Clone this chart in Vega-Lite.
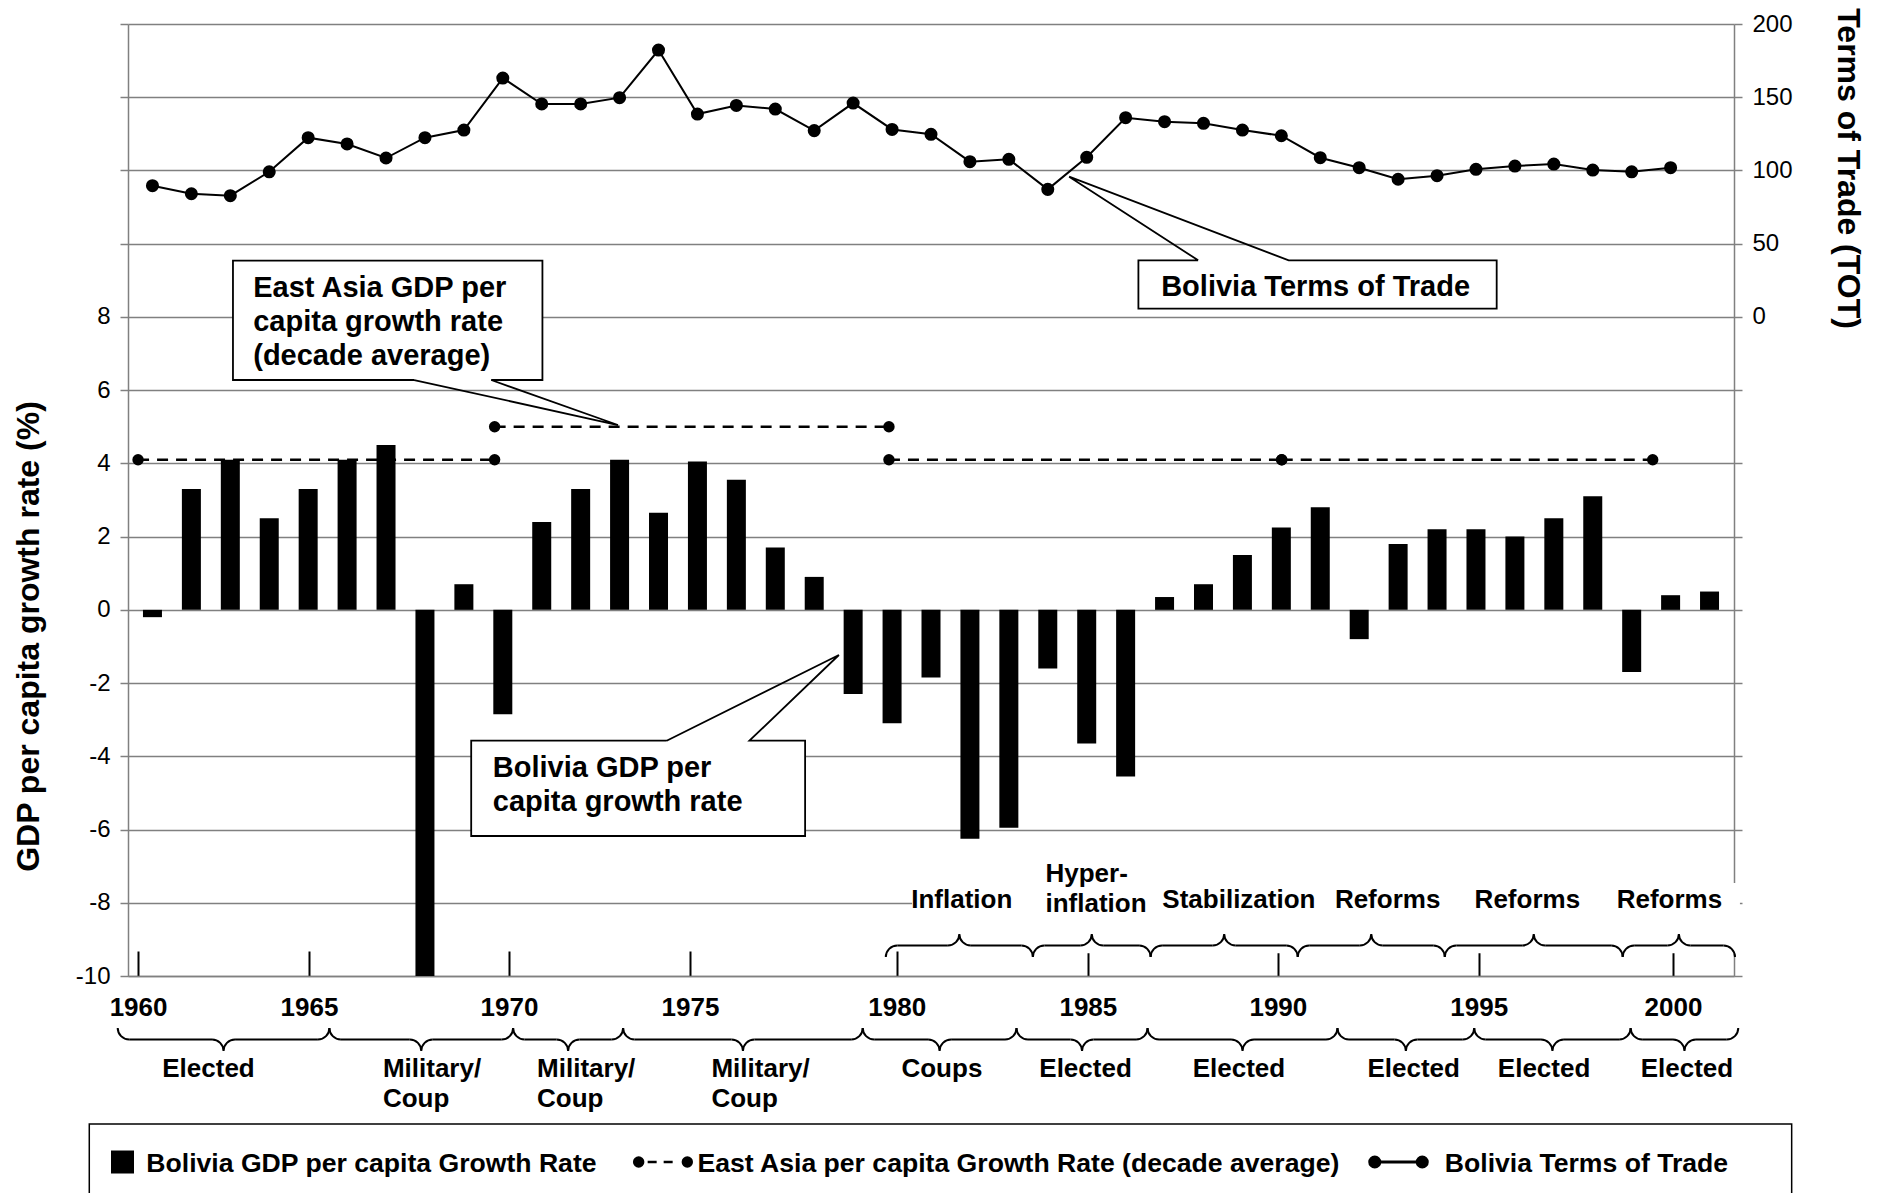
{
  "$schema": "https://vega.github.io/schema/vega-lite/v6.json",
  "width": 1606,
  "height": 952,
  "autosize": "none",
  "padding": {"left": 128, "top": 24, "right": 145, "bottom": 217},
  "config": {"view": {"stroke": null}, "font": "Liberation Sans"},
  "datasets": {
    "lb": [
      {"s": 1960.107, "m": 1962.826, "e": 1965.545},
      {"s": 1965.545, "m": 1967.905, "e": 1970.265},
      {"s": 1970.265, "m": 1971.678, "e": 1973.091},
      {"s": 1973.091, "m": 1976.169, "e": 1979.246},
      {"s": 1979.246, "m": 1981.221, "e": 1983.196},
      {"s": 1983.196, "m": 1984.88, "e": 1986.563},
      {"s": 1986.563, "m": 1989.003, "e": 1991.442},
      {"s": 1991.442, "m": 1993.199, "e": 1994.955},
      {"s": 1994.955, "m": 1996.964, "e": 1998.973},
      {"s": 1998.973, "m": 2000.356, "e": 2001.738}
    ],
    "ub": [
      {"s": 1979.839, "m": 1981.728, "e": 1983.617},
      {"s": 1983.617, "m": 1985.13, "e": 1986.642},
      {"s": 1986.642, "m": 1988.532, "e": 1990.421},
      {"s": 1990.421, "m": 1992.31, "e": 1994.199},
      {"s": 1994.199, "m": 1996.484, "e": 1998.769},
      {"s": 1998.769, "m": 2000.212, "e": 2001.654}
    ],
    "ea": [
      {"period": "1960s", "year": 1960.63, "growth": 4.1},
      {"period": "1960s", "year": 1969.79, "growth": 4.1},
      {"period": "1970s", "year": 1969.79, "growth": 5.0},
      {"period": "1970s", "year": 1979.92, "growth": 5.0},
      {"period": "1980s", "year": 1979.92, "growth": 4.1},
      {"period": "1980s", "year": 1990.01, "growth": 4.1},
      {"period": "1990s", "year": 1990.01, "growth": 4.1},
      {"period": "1990s", "year": 1999.54, "growth": 4.1}
    ],
    "legEA": [{"x": 1973.49, "y": -15.08}, {"x": 1974.74, "y": -15.08}],
    "legTOT": [{"x": 1992.4, "y": -15.08}, {"x": 1993.62, "y": -15.08}]
  },
  "layer": [
    {
      "layer": [
        {
          "data": {"values": [
            {"year": 1961, "growth": -0.2}, {"year": 1962, "growth": 3.3}, {"year": 1963, "growth": 4.1},
            {"year": 1964, "growth": 2.5}, {"year": 1965, "growth": 3.3}, {"year": 1966, "growth": 4.1},
            {"year": 1967, "growth": 4.5}, {"year": 1968, "growth": -10}, {"year": 1969, "growth": 0.7},
            {"year": 1970, "growth": -2.85}, {"year": 1971, "growth": 2.4}, {"year": 1972, "growth": 3.3},
            {"year": 1973, "growth": 4.1}, {"year": 1974, "growth": 2.65}, {"year": 1975, "growth": 4.05},
            {"year": 1976, "growth": 3.55}, {"year": 1977, "growth": 1.7}, {"year": 1978, "growth": 0.9},
            {"year": 1979, "growth": -2.3}, {"year": 1980, "growth": -3.1}, {"year": 1981, "growth": -1.85},
            {"year": 1982, "growth": -6.25}, {"year": 1983, "growth": -5.95}, {"year": 1984, "growth": -1.6},
            {"year": 1985, "growth": -3.65}, {"year": 1986, "growth": -4.55}, {"year": 1987, "growth": 0.35},
            {"year": 1988, "growth": 0.7}, {"year": 1989, "growth": 1.5}, {"year": 1990, "growth": 2.25},
            {"year": 1991, "growth": 2.8}, {"year": 1992, "growth": -0.8}, {"year": 1993, "growth": 1.8},
            {"year": 1994, "growth": 2.2}, {"year": 1995, "growth": 2.2}, {"year": 1996, "growth": 2.0},
            {"year": 1997, "growth": 2.5}, {"year": 1998, "growth": 3.1}, {"year": 1999, "growth": -1.7},
            {"year": 2000, "growth": 0.4}, {"year": 2001, "growth": 0.5}
          ]},
          "mark": {"type": "bar", "color": "black", "width": 19, "orient": "vertical"},
          "encoding": {
            "x": {
              "field": "year", "type": "quantitative",
              "scale": {"domain": [1960.5, 2001.5], "nice": false, "zero": false},
              "axis": {
                "title": null,
                "values": [1960.63, 1965.02, 1970.16, 1974.81, 1980.12, 1985.03, 1989.91, 1995.07, 2000.06],
                "labelExpr": "'' + round(datum.value / 5) * 5",
                "grid": false, "domainColor": "#808080", "domainWidth": 1.5,
                "tickColor": "black", "tickWidth": 2, "tickSize": -25,
                "labelFontSize": 26, "labelFontWeight": "bold", "labelColor": "black",
                "labelPadding": 43, "labelFlush": false, "labelOverlap": false, "labelBaseline": "top"
              }
            },
            "y": {
              "field": "growth", "type": "quantitative",
              "scale": {"domain": [-10, 16], "nice": false, "zero": false},
              "axis": {
                "title": "GDP per capita growth rate (%)",
                "values": [-10, -8, -6, -4, -2, 0, 2, 4, 6, 8, 10, 12, 14, 16],
                "labelExpr": "datum.value <= 8 ? '' + datum.value : ''",
                "grid": true, "gridColor": "#808080", "gridWidth": 1.5,
                "domainColor": "#808080", "domainWidth": 1.5,
                "tickColor": "#808080", "tickWidth": 1.5, "tickSize": 8,
                "labelFontSize": 24, "labelColor": "black", "labelPadding": 10, "labelOverlap": false,
                "titleFontSize": 32, "titleFontWeight": "bold", "titleColor": "black",
                "titleX": -100, "titleY": 612, "titleAngle": 270, "titleAlign": "center", "titleBaseline": "middle"
              }
            },
            "y2": {"datum": 0}
          }
        },
        {
          "data": {"values": [
            {"x1": 1963.068, "x2": 1971.018, "y1": 6.277, "y2": 9.535},
            {"x1": 1969.188, "x2": 1977.766, "y1": -6.177, "y2": -3.574},
            {"x1": 1986.328, "x2": 1995.532, "y1": 8.225, "y2": 9.546},
            {"x1": 1980.515, "x2": 2001.781, "y1": -9.38, "y2": -7.46}
          ]},
          "mark": {"type": "rect", "color": "white", "opacity": 1},
          "encoding": {
            "x": {"field": "x1", "type": "quantitative", "scale": {"domain": [1960.5, 2001.5], "nice": false, "zero": false}},
            "x2": {"field": "x2"},
            "y": {"field": "y1", "type": "quantitative", "scale": {"domain": [-10, 16], "nice": false, "zero": false}},
            "y2": {"field": "y2"}
          }
        },
        {
          "data": {"values": [
            {"id": "ea", "i": 1, "x": 1967.725, "y": 6.277}, {"id": "ea", "i": 2, "x": 1972.958, "y": 5.048},
            {"id": "ea", "i": 3, "x": 1969.703, "y": 6.277}, {"id": "ea", "i": 4, "x": 1971.018, "y": 6.277},
            {"id": "ea", "i": 5, "x": 1971.018, "y": 9.535}, {"id": "ea", "i": 6, "x": 1963.068, "y": 9.535},
            {"id": "ea", "i": 7, "x": 1963.068, "y": 6.277}, {"id": "ea", "i": 8, "x": 1967.725, "y": 6.277},
            {"id": "bol", "i": 1, "x": 1974.209, "y": -3.574}, {"id": "bol", "i": 2, "x": 1978.634, "y": -1.233},
            {"id": "bol", "i": 3, "x": 1976.336, "y": -3.574}, {"id": "bol", "i": 4, "x": 1977.766, "y": -3.574},
            {"id": "bol", "i": 5, "x": 1977.766, "y": -6.177}, {"id": "bol", "i": 6, "x": 1969.188, "y": -6.177},
            {"id": "bol", "i": 7, "x": 1969.188, "y": -3.574}, {"id": "bol", "i": 8, "x": 1974.209, "y": -3.574},
            {"id": "tot", "i": 1, "x": 1987.863, "y": 9.546}, {"id": "tot", "i": 2, "x": 1984.549, "y": 11.83},
            {"id": "tot", "i": 3, "x": 1990.189, "y": 9.546}, {"id": "tot", "i": 4, "x": 1995.532, "y": 9.546},
            {"id": "tot", "i": 5, "x": 1995.532, "y": 8.225}, {"id": "tot", "i": 6, "x": 1986.328, "y": 8.225},
            {"id": "tot", "i": 7, "x": 1986.328, "y": 9.546}, {"id": "tot", "i": 8, "x": 1987.863, "y": 9.546}
          ]},
          "mark": {"type": "line", "color": "black", "strokeWidth": 1.8, "strokeJoin": "miter"},
          "encoding": {
            "x": {"field": "x", "type": "quantitative", "scale": {"domain": [1960.5, 2001.5], "nice": false, "zero": false}},
            "y": {"field": "y", "type": "quantitative", "scale": {"domain": [-10, 16], "nice": false, "zero": false}},
            "order": {"field": "i", "type": "quantitative"},
            "detail": {"field": "id", "type": "nominal"}
          }
        },
        {
          "data": {"values": [
            {"t": "East Asia GDP per\ncapita growth rate\n(decade average)", "x": 1963.589, "y": 8.552},
            {"t": "Bolivia GDP per\ncapita growth rate", "x": 1969.742, "y": -4.557},
            {"t": "Bolivia Terms of Trade", "x": 1986.913, "y": 8.571}
          ]},
          "mark": {"type": "text", "align": "left", "baseline": "alphabetic", "fontSize": 29, "fontWeight": "bold", "color": "black", "lineBreak": "\n", "lineHeight": 34},
          "encoding": {
            "x": {"field": "x", "type": "quantitative", "scale": {"domain": [1960.5, 2001.5], "nice": false, "zero": false}},
            "y": {"field": "y", "type": "quantitative", "scale": {"domain": [-10, 16], "nice": false, "zero": false}},
            "text": {"field": "t"}
          }
        },
        {
          "data": {"name": "ea"},
          "mark": {"type": "line", "color": "black", "strokeWidth": 2.5, "strokeDash": [11, 8]},
          "encoding": {
            "x": {"field": "year", "type": "quantitative", "scale": {"domain": [1960.5, 2001.5], "nice": false, "zero": false}},
            "y": {"field": "growth", "type": "quantitative", "scale": {"domain": [-10, 16], "nice": false, "zero": false}},
            "detail": {"field": "period", "type": "nominal"}
          }
        },
        {
          "data": {"name": "ea"},
          "mark": {"type": "point", "filled": true, "color": "black", "size": 130, "opacity": 1},
          "encoding": {
            "x": {"field": "year", "type": "quantitative", "scale": {"domain": [1960.5, 2001.5], "nice": false, "zero": false}},
            "y": {"field": "growth", "type": "quantitative", "scale": {"domain": [-10, 16], "nice": false, "zero": false}}
          }
        },
        {
          "data": {"name": "lb"},
          "mark": {"type": "rule", "color": "black", "strokeWidth": 2, "xOffset": 11.5, "x2Offset": -11.5, "yOffset": 63.5},
          "encoding": {
            "x": {"field": "s", "type": "quantitative", "scale": {"domain": [1960.5, 2001.5], "nice": false, "zero": false}},
            "x2": {"field": "m"},
            "y": {"datum": -10, "type": "quantitative", "scale": {"domain": [-10, 16], "nice": false, "zero": false}}
          }
        },
        {
          "data": {"name": "lb"},
          "mark": {"type": "rule", "color": "black", "strokeWidth": 2, "xOffset": 11.5, "x2Offset": -11.5, "yOffset": 63.5},
          "encoding": {
            "x": {"field": "m", "type": "quantitative", "scale": {"domain": [1960.5, 2001.5], "nice": false, "zero": false}},
            "x2": {"field": "e"},
            "y": {"datum": -10, "type": "quantitative", "scale": {"domain": [-10, 16], "nice": false, "zero": false}}
          }
        },
        {
          "data": {"name": "lb"},
          "mark": {"type": "point", "shape": "M0,-1C0,-0.448 0.448,0 1,0", "filled": false, "color": "black", "strokeWidth": 2, "size": 529, "opacity": 1, "yOffset": 63.5},
          "encoding": {
            "x": {"field": "s", "type": "quantitative", "scale": {"domain": [1960.5, 2001.5], "nice": false, "zero": false}},
            "y": {"datum": -10, "type": "quantitative", "scale": {"domain": [-10, 16], "nice": false, "zero": false}}
          }
        },
        {
          "data": {"name": "lb"},
          "mark": {"type": "point", "shape": "M-1,0C-0.448,0 0,0.448 0,1C0,0.448 0.448,0 1,0", "filled": false, "color": "black", "strokeWidth": 2, "size": 529, "opacity": 1, "yOffset": 63.5},
          "encoding": {
            "x": {"field": "m", "type": "quantitative", "scale": {"domain": [1960.5, 2001.5], "nice": false, "zero": false}},
            "y": {"datum": -10, "type": "quantitative", "scale": {"domain": [-10, 16], "nice": false, "zero": false}}
          }
        },
        {
          "data": {"name": "lb"},
          "mark": {"type": "point", "shape": "M-1,0C-0.448,0 0,-0.448 0,-1", "filled": false, "color": "black", "strokeWidth": 2, "size": 529, "opacity": 1, "yOffset": 63.5},
          "encoding": {
            "x": {"field": "e", "type": "quantitative", "scale": {"domain": [1960.5, 2001.5], "nice": false, "zero": false}},
            "y": {"datum": -10, "type": "quantitative", "scale": {"domain": [-10, 16], "nice": false, "zero": false}}
          }
        },
        {
          "data": {"name": "ub"},
          "mark": {"type": "rule", "color": "black", "strokeWidth": 2, "xOffset": 11.5, "x2Offset": -11.5, "yOffset": -30.5},
          "encoding": {
            "x": {"field": "s", "type": "quantitative", "scale": {"domain": [1960.5, 2001.5], "nice": false, "zero": false}},
            "x2": {"field": "m"},
            "y": {"datum": -10, "type": "quantitative", "scale": {"domain": [-10, 16], "nice": false, "zero": false}}
          }
        },
        {
          "data": {"name": "ub"},
          "mark": {"type": "rule", "color": "black", "strokeWidth": 2, "xOffset": 11.5, "x2Offset": -11.5, "yOffset": -30.5},
          "encoding": {
            "x": {"field": "m", "type": "quantitative", "scale": {"domain": [1960.5, 2001.5], "nice": false, "zero": false}},
            "x2": {"field": "e"},
            "y": {"datum": -10, "type": "quantitative", "scale": {"domain": [-10, 16], "nice": false, "zero": false}}
          }
        },
        {
          "data": {"name": "ub"},
          "mark": {"type": "point", "shape": "M0,1C0,0.448 0.448,0 1,0", "filled": false, "color": "black", "strokeWidth": 2, "size": 529, "opacity": 1, "yOffset": -30.5},
          "encoding": {
            "x": {"field": "s", "type": "quantitative", "scale": {"domain": [1960.5, 2001.5], "nice": false, "zero": false}},
            "y": {"datum": -10, "type": "quantitative", "scale": {"domain": [-10, 16], "nice": false, "zero": false}}
          }
        },
        {
          "data": {"name": "ub"},
          "mark": {"type": "point", "shape": "M-1,0C-0.448,0 0,-0.448 0,-1C0,-0.448 0.448,0 1,0", "filled": false, "color": "black", "strokeWidth": 2, "size": 529, "opacity": 1, "yOffset": -30.5},
          "encoding": {
            "x": {"field": "m", "type": "quantitative", "scale": {"domain": [1960.5, 2001.5], "nice": false, "zero": false}},
            "y": {"datum": -10, "type": "quantitative", "scale": {"domain": [-10, 16], "nice": false, "zero": false}}
          }
        },
        {
          "data": {"name": "ub"},
          "mark": {"type": "point", "shape": "M-1,0C-0.448,0 0,0.448 0,1", "filled": false, "color": "black", "strokeWidth": 2, "size": 529, "opacity": 1, "yOffset": -30.5},
          "encoding": {
            "x": {"field": "e", "type": "quantitative", "scale": {"domain": [1960.5, 2001.5], "nice": false, "zero": false}},
            "y": {"datum": -10, "type": "quantitative", "scale": {"domain": [-10, 16], "nice": false, "zero": false}}
          }
        },
        {
          "data": {"values": [
            {"t": "Elected", "x": 1962.44}, {"t": "Coups", "x": 1981.28}, {"t": "Elected", "x": 1984.97},
            {"t": "Elected", "x": 1988.91}, {"t": "Elected", "x": 1993.4}, {"t": "Elected", "x": 1996.75},
            {"t": "Elected", "x": 2000.42}
          ]},
          "mark": {"type": "text", "align": "center", "baseline": "alphabetic", "dy": 101, "fontSize": 26, "fontWeight": "bold", "color": "black"},
          "encoding": {
            "x": {"field": "x", "type": "quantitative", "scale": {"domain": [1960.5, 2001.5], "nice": false, "zero": false}},
            "y": {"datum": -10, "type": "quantitative", "scale": {"domain": [-10, 16], "nice": false, "zero": false}},
            "text": {"field": "t"}
          }
        },
        {
          "data": {"values": [
            {"t": "Military/\nCoup", "x": 1966.92}, {"t": "Military/\nCoup", "x": 1970.88}, {"t": "Military/\nCoup", "x": 1975.36}
          ]},
          "mark": {"type": "text", "align": "left", "baseline": "alphabetic", "dy": 101, "fontSize": 26, "fontWeight": "bold", "color": "black", "lineBreak": "\n", "lineHeight": 30},
          "encoding": {
            "x": {"field": "x", "type": "quantitative", "scale": {"domain": [1960.5, 2001.5], "nice": false, "zero": false}},
            "y": {"datum": -10, "type": "quantitative", "scale": {"domain": [-10, 16], "nice": false, "zero": false}},
            "text": {"field": "t"}
          }
        },
        {
          "data": {"values": [
            {"t": "Inflation", "x": 1981.79}, {"t": "Stabilization", "x": 1988.91}, {"t": "Reforms", "x": 1992.73},
            {"t": "Reforms", "x": 1996.32}, {"t": "Reforms", "x": 1999.97}
          ]},
          "mark": {"type": "text", "align": "center", "baseline": "alphabetic", "dy": -68, "fontSize": 26, "fontWeight": "bold", "color": "black"},
          "encoding": {
            "x": {"field": "x", "type": "quantitative", "scale": {"domain": [1960.5, 2001.5], "nice": false, "zero": false}},
            "y": {"datum": -10, "type": "quantitative", "scale": {"domain": [-10, 16], "nice": false, "zero": false}},
            "text": {"field": "t"}
          }
        },
        {
          "data": {"values": [{"t": "Hyper-\ninflation", "x": 1983.94}]},
          "mark": {"type": "text", "align": "left", "baseline": "alphabetic", "dy": -94, "fontSize": 26, "fontWeight": "bold", "color": "black", "lineBreak": "\n", "lineHeight": 30},
          "encoding": {
            "x": {"field": "x", "type": "quantitative", "scale": {"domain": [1960.5, 2001.5], "nice": false, "zero": false}},
            "y": {"datum": -10, "type": "quantitative", "scale": {"domain": [-10, 16], "nice": false, "zero": false}},
            "text": {"field": "t"}
          }
        },
        {
          "data": {"values": [{"x1": 1959.377, "x2": 2003.11, "y1": -16.391, "y2": -14.042}]},
          "mark": {"type": "rect", "filled": false, "color": "black", "strokeWidth": 1.5, "opacity": 1},
          "encoding": {
            "x": {"field": "x1", "type": "quantitative", "scale": {"domain": [1960.5, 2001.5], "nice": false, "zero": false}},
            "x2": {"field": "x2"},
            "y": {"field": "y1", "type": "quantitative", "scale": {"domain": [-10, 16], "nice": false, "zero": false}},
            "y2": {"field": "y2"}
          }
        },
        {
          "data": {"values": [{"x": 1960.23, "y": -15.08}]},
          "mark": {"type": "point", "shape": "square", "filled": true, "color": "black", "size": 529, "opacity": 1},
          "encoding": {
            "x": {"field": "x", "type": "quantitative", "scale": {"domain": [1960.5, 2001.5], "nice": false, "zero": false}},
            "y": {"field": "y", "type": "quantitative", "scale": {"domain": [-10, 16], "nice": false, "zero": false}}
          }
        },
        {
          "data": {"name": "legEA"},
          "mark": {"type": "line", "color": "black", "strokeWidth": 2.5, "strokeDash": [0, 9, 9, 7, 9, 40]},
          "encoding": {
            "x": {"field": "x", "type": "quantitative", "scale": {"domain": [1960.5, 2001.5], "nice": false, "zero": false}},
            "y": {"field": "y", "type": "quantitative", "scale": {"domain": [-10, 16], "nice": false, "zero": false}}
          }
        },
        {
          "data": {"name": "legEA"},
          "mark": {"type": "point", "filled": true, "color": "black", "size": 130, "opacity": 1},
          "encoding": {
            "x": {"field": "x", "type": "quantitative", "scale": {"domain": [1960.5, 2001.5], "nice": false, "zero": false}},
            "y": {"field": "y", "type": "quantitative", "scale": {"domain": [-10, 16], "nice": false, "zero": false}}
          }
        },
        {
          "data": {"name": "legTOT"},
          "mark": {"type": "line", "color": "black", "strokeWidth": 3},
          "encoding": {
            "x": {"field": "x", "type": "quantitative", "scale": {"domain": [1960.5, 2001.5], "nice": false, "zero": false}},
            "y": {"field": "y", "type": "quantitative", "scale": {"domain": [-10, 16], "nice": false, "zero": false}}
          }
        },
        {
          "data": {"name": "legTOT"},
          "mark": {"type": "point", "filled": true, "color": "black", "size": 170, "opacity": 1},
          "encoding": {
            "x": {"field": "x", "type": "quantitative", "scale": {"domain": [1960.5, 2001.5], "nice": false, "zero": false}},
            "y": {"field": "y", "type": "quantitative", "scale": {"domain": [-10, 16], "nice": false, "zero": false}}
          }
        },
        {
          "data": {"values": [
            {"t": "Bolivia GDP per capita Growth Rate", "x": 1960.842, "y": -15.35},
            {"t": "East Asia per capita Growth Rate (decade average)", "x": 1975.0, "y": -15.35},
            {"t": "Bolivia Terms of Trade", "x": 1994.2, "y": -15.35}
          ]},
          "mark": {"type": "text", "align": "left", "baseline": "alphabetic", "fontSize": 26.6, "fontWeight": "bold", "color": "black"},
          "encoding": {
            "x": {"field": "x", "type": "quantitative", "scale": {"domain": [1960.5, 2001.5], "nice": false, "zero": false}},
            "y": {"field": "y", "type": "quantitative", "scale": {"domain": [-10, 16], "nice": false, "zero": false}},
            "text": {"field": "t"}
          }
        }
      ]
    },
    {
      "data": {"values": [
        {"year": 1961, "tot": 89.6}, {"year": 1962, "tot": 84.1}, {"year": 1963, "tot": 82.8}, {"year": 1964, "tot": 99.1},
        {"year": 1965, "tot": 122.4}, {"year": 1966, "tot": 118.1}, {"year": 1967, "tot": 108.5}, {"year": 1968, "tot": 122.4},
        {"year": 1969, "tot": 127.6}, {"year": 1970, "tot": 163.1}, {"year": 1971, "tot": 145.4}, {"year": 1972, "tot": 145.4},
        {"year": 1973, "tot": 149.7}, {"year": 1974, "tot": 182.2}, {"year": 1975, "tot": 138.5}, {"year": 1976, "tot": 144.4},
        {"year": 1977, "tot": 141.9}, {"year": 1978, "tot": 127.2}, {"year": 1979, "tot": 146.0}, {"year": 1980, "tot": 128.0},
        {"year": 1981, "tot": 124.7}, {"year": 1982, "tot": 106.0}, {"year": 1983, "tot": 107.6}, {"year": 1984, "tot": 87.1},
        {"year": 1985, "tot": 109.0}, {"year": 1986, "tot": 136.0}, {"year": 1987, "tot": 133.3}, {"year": 1988, "tot": 132.2},
        {"year": 1989, "tot": 127.6}, {"year": 1990, "tot": 123.7}, {"year": 1991, "tot": 108.7}, {"year": 1992, "tot": 101.9},
        {"year": 1993, "tot": 94.0}, {"year": 1994, "tot": 96.4}, {"year": 1995, "tot": 100.8}, {"year": 1996, "tot": 103.0},
        {"year": 1997, "tot": 104.4}, {"year": 1998, "tot": 100.3}, {"year": 1999, "tot": 99.1}, {"year": 2000, "tot": 101.9}
      ]},
      "encoding": {
        "x": {"field": "year", "type": "quantitative", "scale": {"domain": [1960.5, 2001.5], "nice": false, "zero": false}},
        "y": {
          "field": "tot", "type": "quantitative",
          "scale": {"domain": [-450, 200], "nice": false, "zero": false},
          "axis": {
            "orient": "right", "title": "Terms of Trade (TOT)",
            "values": [-450, -400, -350, -300, -250, -200, -150, -100, -50, 0, 50, 100, 150, 200],
            "labelExpr": "datum.value >= 0 ? '' + datum.value : ''",
            "grid": false, "domainColor": "#808080", "domainWidth": 1.5,
            "tickColor": "#808080", "tickWidth": 1.5, "tickSize": 8,
            "labelFontSize": 24, "labelColor": "black", "labelPadding": 10, "labelOverlap": false,
            "titleFontSize": 32, "titleFontWeight": "bold", "titleColor": "black",
            "titleX": 113, "titleY": 144, "titleAngle": 90, "titleAlign": "center", "titleBaseline": "middle"
          }
        }
      },
      "layer": [
        {"mark": {"type": "line", "color": "black", "strokeWidth": 2}},
        {"mark": {"type": "point", "filled": true, "color": "black", "size": 170, "opacity": 1}}
      ]
    }
  ],
  "resolve": {"scale": {"y": "independent"}}
}
